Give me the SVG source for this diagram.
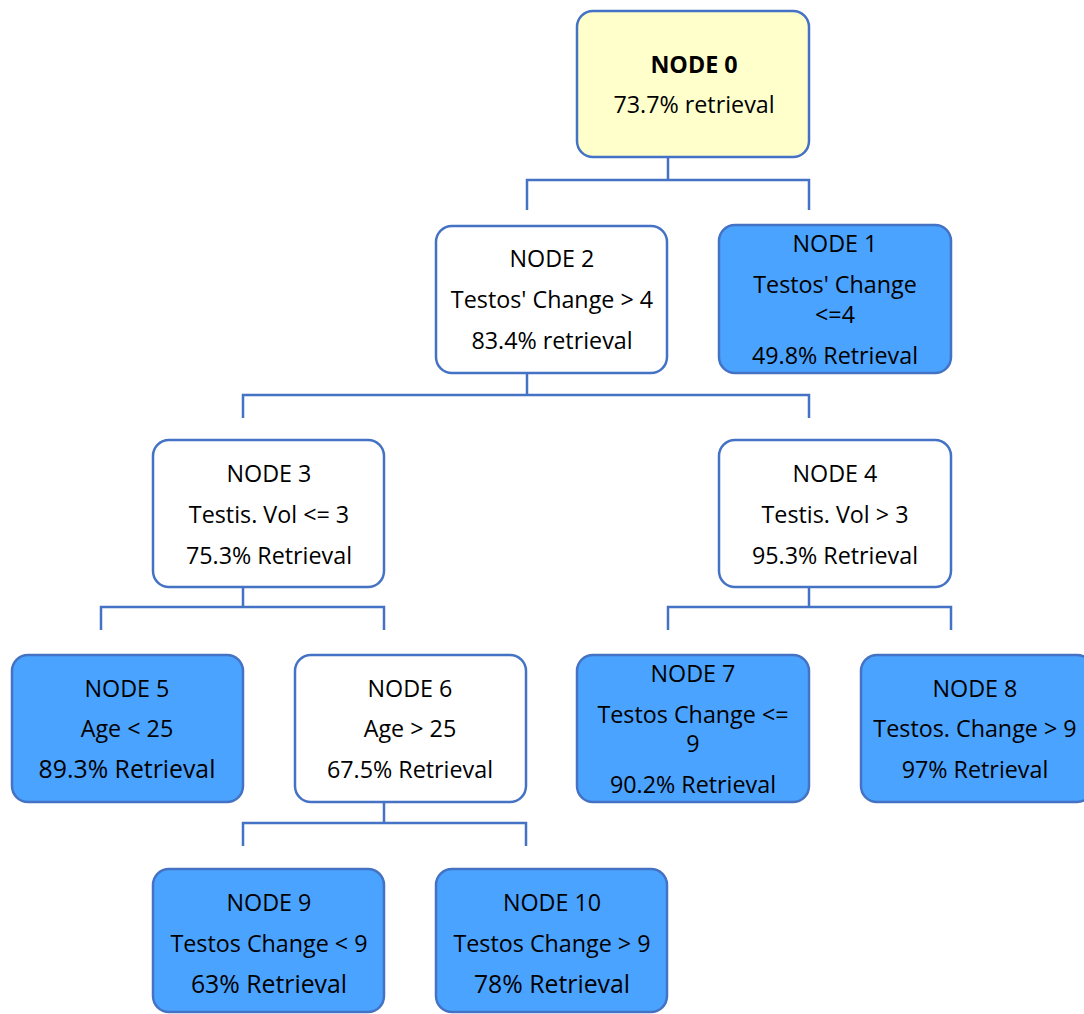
<svg xmlns="http://www.w3.org/2000/svg" width="1084" height="1014" viewBox="0 0 1084 1014">
<style>
.box{stroke:#4472c4;stroke-width:2.5}
.w{fill:#ffffff}
.b{fill:#4aa3ff}
.y{fill:#ffffcc}
text{font-family:"Open Sans","Noto Sans","DejaVu Sans",sans-serif;font-size:23.3px;fill:#000;text-anchor:middle}
.big{font-size:24.8px}
.bold{font-weight:bold}
.con{stroke:#4472c4;stroke-width:2.5;fill:none}
.faint{stroke:#dfe6f2;stroke-width:2;fill:none}
</style>
<rect width="1084" height="1014" fill="#ffffff"/>
<g id="connectors">
<path class="faint" d="M668 134V157 M527 350V372 M243 565V586 M809 565V586 M384 780V801"/>
<path class="con" d="M668 158V180 M527 210V180H809V210"/>
<path class="con" d="M527 373V395 M243 418V395H809V418"/>
<path class="con" d="M243 587V607 M101 630V607H384V630"/>
<path class="con" d="M809 587V607 M668 630V607H951V630"/>
<path class="con" d="M384 802V823 M243 846V823H526V846"/>
</g>
<g id="node0">
<rect class="box y" x="577" y="11" width="232" height="146" rx="16"/>
<text class="bold" x="694" y="73">NODE 0</text>
<text x="694" y="113">73.7% retrieval</text>
</g>
<g id="node2">
<rect class="box w" x="436" y="226" width="231" height="147" rx="16"/>
<text x="552" y="267">NODE 2</text>
<text x="552" y="308">Testos' Change &gt; 4</text>
<text x="552" y="349">83.4% retrieval</text>
</g>
<g id="node1">
<rect class="box b" x="719" y="225" width="232" height="148" rx="16"/>
<text x="835" y="252">NODE 1</text>
<text x="835" y="293">Testos' Change</text>
<text x="835" y="323">&lt;=4</text>
<text x="835" y="364">49.8% Retrieval</text>
</g>
<g id="node3">
<rect class="box w" x="153" y="440" width="231" height="147" rx="16"/>
<text x="269" y="482">NODE 3</text>
<text x="269" y="523">Testis. Vol &lt;= 3</text>
<text x="269" y="564">75.3% Retrieval</text>
</g>
<g id="node4">
<rect class="box w" x="719" y="440" width="232" height="147" rx="16"/>
<text x="835" y="482">NODE 4</text>
<text x="835" y="523">Testis. Vol &gt; 3</text>
<text x="835" y="564">95.3% Retrieval</text>
</g>
<g id="node5">
<rect class="box b" x="12" y="655" width="231" height="147" rx="16"/>
<text x="127" y="697">NODE 5</text>
<text x="127" y="737">Age &lt; 25</text>
<text class="big" x="127" y="778">89.3% Retrieval</text>
</g>
<g id="node6">
<rect class="box w" x="295" y="655" width="231" height="147" rx="16"/>
<text x="410" y="697">NODE 6</text>
<text x="410" y="737">Age &gt; 25</text>
<text x="410" y="778">67.5% Retrieval</text>
</g>
<g id="node7">
<rect class="box b" x="577" y="655" width="232" height="147" rx="16"/>
<text x="693" y="682">NODE 7</text>
<text x="693" y="723">Testos Change &lt;=</text>
<text x="693" y="752">9</text>
<text x="693" y="793">90.2% Retrieval</text>
</g>
<g id="node8">
<rect class="box b" x="861" y="655" width="232" height="147" rx="16"/>
<text x="975" y="697">NODE 8</text>
<text x="975" y="737">Testos. Change &gt; 9</text>
<text x="975" y="778">97% Retrieval</text>
</g>
<g id="node9">
<rect class="box b" x="153" y="869" width="231" height="143" rx="16"/>
<text x="269" y="911">NODE 9</text>
<text x="269" y="952">Testos Change &lt; 9</text>
<text class="big" x="269" y="993">63% Retrieval</text>
</g>
<g id="node10">
<rect class="box b" x="436" y="869" width="231" height="143" rx="16"/>
<text x="552" y="911">NODE 10</text>
<text x="552" y="952">Testos Change &gt; 9</text>
<text class="big" x="552" y="993">78% Retrieval</text>
</g>
</svg>
